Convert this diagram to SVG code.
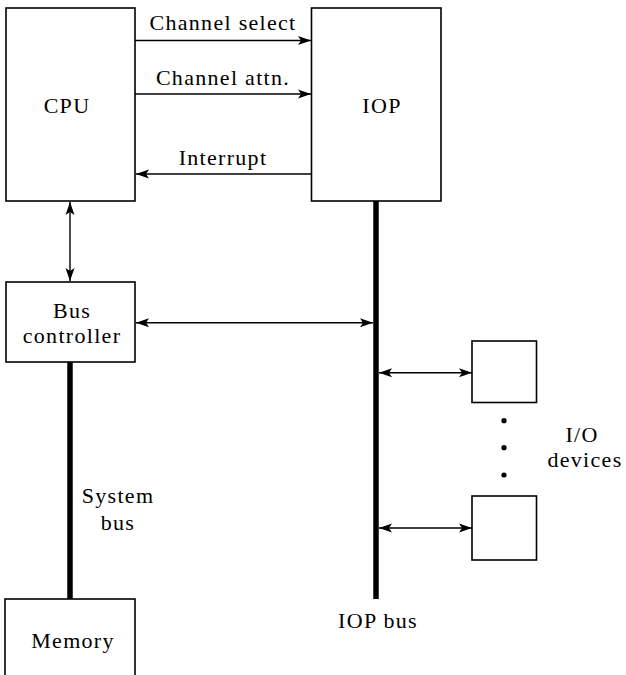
<svg xmlns="http://www.w3.org/2000/svg" width="626" height="675" viewBox="0 0 626 675">
<defs>
<marker id="ah" markerUnits="userSpaceOnUse" markerWidth="14" markerHeight="10" viewBox="0 0 14 10" refX="13" refY="5" orient="auto-start-reverse">
<path d="M0,0.5 L13,5 L0,9.5 L3,5 Z" fill="#000"/>
</marker>
</defs>
<style>
.box{fill:#fff;stroke:#000;stroke-width:1.6}
.ln{fill:none;stroke:#000;stroke-width:1.4}
.bus{fill:none;stroke:#000;stroke-width:5.5}
text{font-family:"Liberation Serif","Times New Roman",serif;font-size:22px;fill:#000;text-anchor:middle;letter-spacing:1.3px}
</style>
<rect width="626" height="675" fill="#fff"/>
<g id="connectors">
<line class="ln" x1="135" y1="40.5" x2="311" y2="40.5" marker-end="url(#ah)"/>
<line class="ln" x1="135" y1="94" x2="311" y2="94" marker-end="url(#ah)"/>
<line class="ln" x1="311" y1="174" x2="136" y2="174" marker-end="url(#ah)"/>
<line class="ln" x1="70" y1="202" x2="70" y2="281" marker-start="url(#ah)" marker-end="url(#ah)"/>
<line class="ln" x1="136" y1="322.7" x2="373" y2="322.7" marker-start="url(#ah)" marker-end="url(#ah)"/>
<line class="ln" x1="379" y1="372.7" x2="472" y2="372.7" marker-start="url(#ah)" marker-end="url(#ah)"/>
<line class="ln" x1="379" y1="528" x2="472" y2="528" marker-start="url(#ah)" marker-end="url(#ah)"/>
<line class="bus" x1="376" y1="201" x2="376" y2="599"/>
<line class="bus" x1="70" y1="362" x2="70" y2="599"/>
<text x="223" y="30">Channel select</text>
<text x="223" y="85">Channel attn.</text>
<text x="223" y="165">Interrupt</text>
<text x="118" y="503">System</text>
<text x="118" y="530">bus</text>
<text x="378" y="628">IOP bus</text>
</g>
<g id="cpu">
<rect class="box" x="6" y="8" width="129" height="193"/>
<text x="67" y="113">CPU</text>
</g>
<g id="iop">
<rect class="box" x="311.5" y="8" width="129.5" height="193"/>
<text x="382" y="113">IOP</text>
</g>
<g id="bus-controller">
<rect class="box" x="6" y="282" width="129" height="80"/>
<text x="72" y="318">Bus</text>
<text x="72" y="343">controller</text>
</g>
<g id="memory">
<rect class="box" x="5" y="599" width="130" height="90"/>
<text x="73" y="648">Memory</text>
</g>
<g id="io-device-1">
<rect class="box" x="472" y="341" width="64.5" height="61.5"/>
</g>
<g id="io-device-2">
<rect class="box" x="472" y="496" width="64.5" height="64"/>
</g>
<g id="io-devices-label">
<circle cx="504" cy="420.7" r="2.6" fill="#000"/>
<circle cx="504" cy="447.7" r="2.6" fill="#000"/>
<circle cx="504" cy="475" r="2.6" fill="#000"/>
<text x="582" y="441.7">I/O</text>
<text x="585" y="467">devices</text>
</g>
</svg>
